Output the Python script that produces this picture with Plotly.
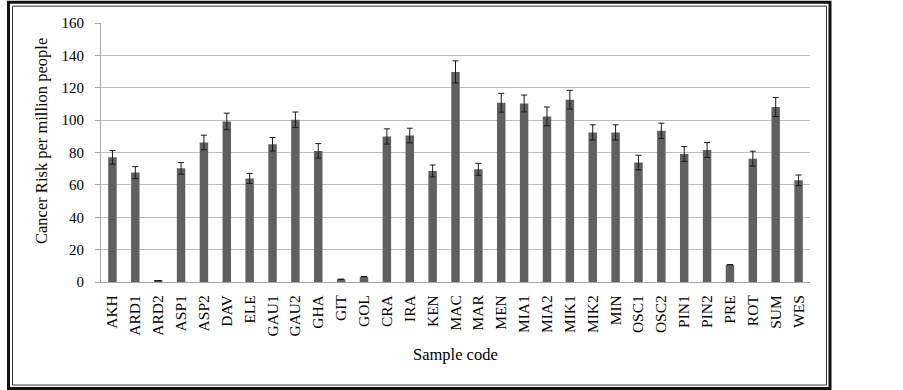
import plotly.graph_objects as go

categories = ["AKH", "ARD1", "ARD2", "ASP1", "ASP2", "DAV", "ELE", "GAU1", "GAU2", "GHA",
              "GIT", "GOL", "CRA", "IRA", "KEN", "MAC", "MAR", "MEN", "MIA1", "MIA2",
              "MIK1", "MIK2", "MIN", "OSC1", "OSC2", "PIN1", "PIN2", "PRE", "ROT", "SUM", "WES"]
risk = [77.0, 67.6, 0.8, 70.2, 86.2, 99.2, 64.0, 85.1, 100.2, 81.0,
        1.7, 3.3, 89.9, 90.5, 68.6, 129.8, 69.6, 110.7, 110.3, 102.3,
        112.6, 92.4, 92.4, 73.8, 93.4, 79.1, 81.6, 10.7, 76.2, 108.1, 62.8]
err = [4.2, 3.7, 0.0, 3.6, 4.5, 5.1, 3.1, 4.2, 4.8, 4.5,
       0.0, 0.0, 4.7, 4.5, 3.7, 6.8, 3.7, 5.8, 5.2, 5.8,
       5.8, 4.7, 4.7, 4.5, 4.7, 4.6, 4.6, 0.0, 4.6, 5.9, 3.3]
y_ticks = [0, 20, 40, 60, 80, 100, 120, 140, 160]
x_title = "Sample code"
y_title = "Cancer Risk per million people"

fig = go.Figure()
fig.add_trace(go.Bar(
    x=categories, y=risk,
    marker=dict(color="#606062", line=dict(width=0)),
    error_y=dict(type="data", array=err, visible=True, color="#1a1a1a", thickness=1, width=3),
))

font = "Liberation Serif"
W, H = 903, 390
L, R, T, B = 101, 810, 23.3, 281.7
pw, ph = R - L, B - T

def px(x):
    return (x - L) / pw

def py(y):
    return (B - y) / ph

shapes = [
    dict(type="rect", xref="paper", yref="paper", x0=px(8.5), x1=px(830), y0=py(388), y1=py(2.5),
         line=dict(color="#111111", width=3), layer="above"),
    dict(type="rect", xref="paper", yref="paper", x0=px(12.5), x1=px(826.5), y0=py(384.5), y1=py(6.5),
         line=dict(color="#333333", width=1), layer="above"),
]

annotations = [
    dict(text=x_title, xref="paper", yref="paper", x=px(455.5), y=py(354),
         xanchor="center", yanchor="middle", showarrow=False,
         font=dict(family=font, size=16.5, color="#000000")),
    dict(text=y_title, xref="paper", yref="paper", x=px(42), y=py(141),
         xanchor="center", yanchor="middle", textangle=-90, showarrow=False,
         font=dict(family=font, size=16.5, color="#000000")),
]

fig.update_layout(
    width=W, height=H,
    margin=dict(l=L, r=W - R, t=T, b=H - B, autoexpand=False),
    plot_bgcolor="white", paper_bgcolor="white",
    bargap=0.63,
    showlegend=False,
    font=dict(family=font, size=15, color="#000000"),
    shapes=shapes,
    annotations=annotations,
    xaxis=dict(
        tickangle=-90, tickfont=dict(family=font, size=15.5),
        showline=True, linecolor="#a6a6a6", linewidth=1,
        showgrid=False, ticks="", ticklabelstandoff=6, automargin=False,
    ),
    yaxis=dict(
        range=[0, 160], tickvals=y_ticks,
        tickfont=dict(family=font, size=15),
        showgrid=True, gridcolor="#bdbdbd", gridwidth=1,
        showline=True, linecolor="#a6a6a6", linewidth=1,
        ticks="outside", ticklen=5, tickcolor="#a6a6a6",
        zeroline=False, ticklabelstandoff=8, automargin=False,
    ),
)

fig.write_html("out.html", config={"displayModeBar": False},
               post_script="document.body.style.margin='0';")
